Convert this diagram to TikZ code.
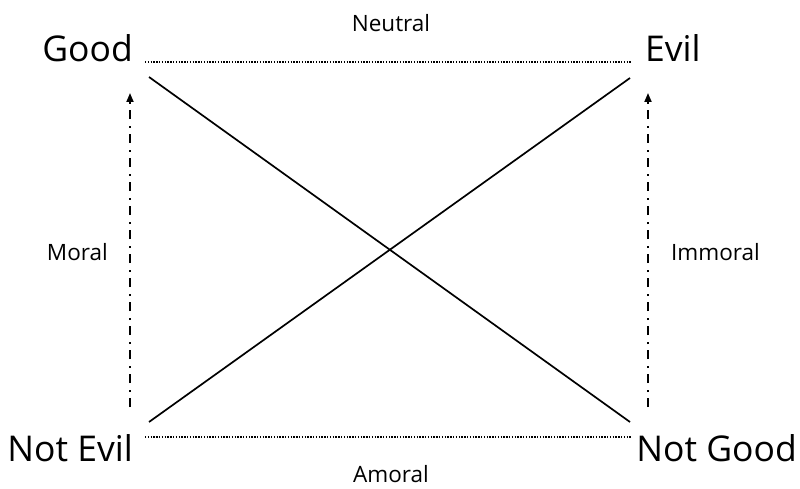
\documentclass[tikz,border=0pt]{standalone}
\usepackage{fontspec}
\setmainfont{Open Sans}
\usetikzlibrary{arrows.meta}
\begin{document}
\begin{tikzpicture}[x=1pt,y=1pt,
  big/.style={font=\fontsize{35.5}{40}\selectfont, inner sep=0pt},
  small/.style={font=\fontsize{22.5}{26}\selectfont, inner sep=0pt},
  dotline/.style={line width=1.4pt, dash pattern=on 1.3pt off 1.5pt},
  diag/.style={line width=1.7pt},
  dasharrow/.style={line width=1.8pt, dash pattern=on 9pt off 6pt on 2pt off 7pt, -{Triangle[width=7pt,length=9pt]}}]
\useasboundingbox (0,0) rectangle (800,488);
\node[big, anchor=base east] (good) at (133,426) {Good};
\node[big, anchor=base west] (evil) at (645,426) {Evil};
\node[big, anchor=base east] (notevil) at (133,27) {Not Evil};
\node[big, anchor=base east] (notgood) at (797,27) {Not Good};
\node[small, anchor=base] (neutral) at (391,456) {Neutral};
\node[small, anchor=base] (amoral) at (391,6) {Amoral};
\node[small, anchor=base east] (moral) at (108,228) {Moral};
\node[small, anchor=base west] (immoral) at (671,228) {Immoral};
% endpoints
\coordinate (tl) at (145,426);
\coordinate (tr) at (632,426);
\coordinate (bl) at (145,51);
\coordinate (br) at (632,51);
\coordinate (d1) at (149,411);
\coordinate (d2) at (630,66);
\coordinate (d3) at (630,410);
\coordinate (d4) at (149,66);
\coordinate (la0) at (130,81);
\coordinate (la1) at (130,395);
\coordinate (ra0) at (648,81);
\coordinate (ra1) at (648,395);
\draw[dotline] (tl) -- (tr);
\draw[dotline] (bl) -- (br);
\draw[diag] (d1) -- (d2);
\draw[diag] (d3) -- (d4);
\draw[dasharrow] (la0) -- (la1);
\draw[dasharrow] (ra0) -- (ra1);
\end{tikzpicture}
\end{document}
